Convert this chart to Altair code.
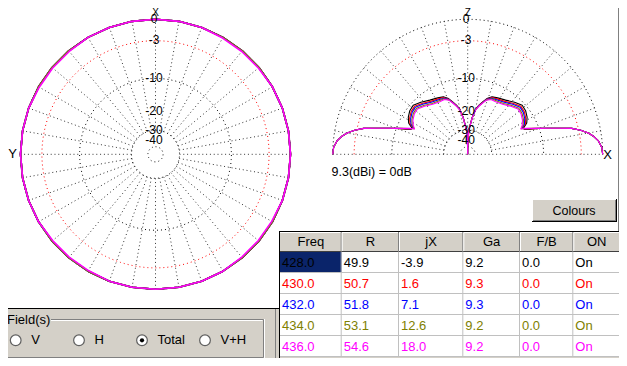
import math
import altair as alt
import pandas as pd

# ---------------- data ----------------
FREQS = ["428.0", "430.0", "432.0", "434.0", "436.0"]
R_VALUES = ["49.9", "50.7", "51.8", "53.1", "54.6"]
JX_VALUES = ["-3.9", "1.6", "7.1", "12.6", "18.0"]
GA_VALUES = ["9.2", "9.3", "9.3", "9.2", "9.2"]
FB_VALUES = ["0.0", "0.0", "0.0", "0.0", "0.0"]
ON_VALUES = ["On", "On", "On", "On", "On"]
HEADERS = ["Freq", "R", "jX", "Ga", "F/B", "ON"]
SERIES_COLORS = ["#000000", "#ff0000", "#0000ff", "#808000", "#ff00ff"]

# horizontal (azimuth) pattern, dB relative to 9.3 dBi, every 10 degrees
AZ_ANGLES = [0, 10, 20, 30, 40, 50, 60, 70, 80, 90, 100, 110, 120, 130, 140, 150, 160, 170, 180,
             190, 200, 210, 220, 230, 240, 250, 260, 270, 280, 290, 300, 310, 320, 330, 340, 350, 360]
AZ_DB_OTHERS = [0.0, 0.0, 0.0, 0.0, 0.0, 0.0, 0.0, 0.0, 0.0, 0.0, 0.0, 0.0, 0.0, 0.0, 0.0, 0.0, 0.0, 0.0, 0.0,
                0.0, 0.0, 0.0, 0.0, 0.0, 0.0, 0.0, 0.0, 0.0, 0.0, 0.0, 0.0, 0.0, 0.0, 0.0, 0.0, 0.0, 0.0]
AZ_DB_436 = [0.0, 0.0, 0.0, -0.1, -0.1, -0.1, 0.0, 0.0, 0.0, 0.0, 0.0, 0.0, -0.1, -0.1, -0.1, 0.0, 0.0, 0.0, 0.0,
             0.0, 0.0, -0.1, -0.1, -0.1, 0.0, 0.0, 0.0, 0.0, 0.0, 0.0, -0.1, -0.1, -0.1, 0.0, 0.0, 0.0, 0.0]

# vertical (elevation) pattern, elevation from horizon, symmetric about zenith
ELEV_ANGLES = [0, 3, 6, 8, 10, 12, 14, 16, 18, 20, 22, 24, 25.5, 28, 32, 37, 42, 48, 55, 62,
               67, 71, 74, 77, 80, 83, 85, 87.5, 89.5, 90]
EL_DB_428 = [0.0, -0.1, -0.5, -1.0, -1.7, -2.7, -4.0, -6.2, -8.2, -10.1, -12.2, -13.6, -13.5, -12.2, -11.4,
             -10.8, -10.6, -11.4, -12.4, -13.0, -13.4, -14.4, -15.8, -17.1, -18.7, -22.4, -26.1, -30.0, -50.0, -100.0]
EL_DB_430 = [0.0, -0.1, -0.5, -1.0, -1.7, -2.7, -4.0, -6.2, -8.2, -10.0, -11.8, -13.4, -13.9, -12.6, -11.8,
             -11.2, -11.0, -11.8, -12.8, -13.3, -13.6, -14.6, -15.9, -17.2, -18.8, -22.5, -26.2, -30.0, -50.0, -100.0]
EL_DB_432 = [0.0, -0.1, -0.5, -1.0, -1.7, -2.7, -4.0, -6.2, -8.2, -10.0, -11.7, -13.2, -14.1, -12.9, -12.1,
             -11.5, -11.3, -12.1, -13.1, -13.6, -13.8, -14.7, -16.0, -17.3, -18.9, -22.6, -26.3, -30.0, -50.0, -100.0]
EL_DB_434 = [0.0, -0.1, -0.5, -1.0, -1.7, -2.7, -4.0, -6.2, -8.2, -10.0, -11.6, -13.1, -14.3, -13.3, -12.5,
             -11.9, -11.7, -12.5, -13.5, -13.9, -14.0, -14.8, -16.1, -17.4, -19.0, -22.7, -26.4, -30.0, -50.0, -100.0]
EL_DB_436 = [0.0, -0.1, -0.5, -1.0, -1.7, -2.7, -4.0, -6.2, -8.2, -10.0, -11.6, -13.0, -14.4, -13.6, -12.8,
             -12.2, -12.0, -12.8, -13.8, -14.2, -14.2, -14.9, -16.2, -17.5, -19.1, -22.8, -26.5, -30.0, -50.0, -100.0]

GRID_DB = [0, -10, -30, -50]
REF_DB = -3
LABEL_DB = [0, -3, -10, -20, -30, -40]
LABEL_TEXT = ["0", "-3", "-10", "-20", "-30", "-40"]
GAIN_NOTE = "9.3(dBi) = 0dB"
FIELD_OPTIONS = ["V", "H", "Total", "V+H"]
SELECTED_FIELD = "Total"
BUTTON_TEXT = "Colours"
GROUP_TEXT = "Field(s)"

# ---------------- layout (page pixels) ----------------
PAGE_W, PAGE_H, MARGIN = 627, 366, 8
CHART_W, CHART_H = PAGE_W - 2 * MARGIN, PAGE_H - 2 * MARGIN
FONT = "Liberation Sans"
GREY = "#d4d0c8"
AZ_C = (155.5, 154.3)
EL_C = (467.7, 154.3)
RADIUS = 135.0
COL_EDGES = [280, 341.7, 399, 463.3, 520, 573.3, 620]
HEAD_TOP, HEAD_BOT = 232, 252
ROW_EDGES = [252, 273, 294, 315, 336, 357]
RADIO_X = [15.7, 79, 142, 205]
RADIO_Y = 340.3

XS = alt.Scale(domain=[MARGIN, MARGIN + CHART_W], range=[0, CHART_W], zero=False, nice=False)
YS = alt.Scale(domain=[MARGIN, MARGIN + CHART_H], range=[0, CHART_H], zero=False, nice=False)


def ex(f="x"):
    return alt.X(f"{f}:Q", scale=XS, axis=None)


def ey(f="y"):
    return alt.Y(f"{f}:Q", scale=YS, axis=None)


COLOR = alt.Color("freq:N", scale=alt.Scale(domain=FREQS, range=SERIES_COLORS), legend=None)


def gain_radius(db):
    return RADIUS * 10 ** (db / 40.0)


def az_xy(angle, db):
    r = gain_radius(db)
    t = math.radians(angle)
    return AZ_C[0] + r * math.sin(t), AZ_C[1] - r * math.cos(t)


def el_xy(angle, db):
    r = gain_radius(db)
    t = math.radians(angle)
    return EL_C[0] - r * math.cos(t), EL_C[1] - r * math.sin(t)


# ---------------- pattern traces ----------------
AZ_SERIES = [AZ_DB_OTHERS, AZ_DB_OTHERS, AZ_DB_OTHERS, AZ_DB_OTHERS, AZ_DB_436]
EL_SERIES = [EL_DB_428, EL_DB_430, EL_DB_432, EL_DB_434, EL_DB_436]
az_rows, el_rows = [], []
for k, f in enumerate(FREQS):
    for i, (a, d) in enumerate(zip(AZ_ANGLES, AZ_SERIES[k])):
        x, y = az_xy(a, d)
        az_rows.append({"freq": f, "key": f + "az", "i": i, "x": x, "y": y})
    full_a = ELEV_ANGLES + [180 - a for a in reversed(ELEV_ANGLES[:-1])]
    full_d = EL_SERIES[k] + list(reversed(EL_SERIES[k][:-1]))
    for i, (a, d) in enumerate(zip(full_a, full_d)):
        x, y = el_xy(a, d)
        el_rows.append({"freq": f, "key": f + "el", "i": i, "x": x, "y": y})
az_traces = alt.Chart(pd.DataFrame(az_rows)).mark_line(strokeWidth=1.6, strokeJoin="round").encode(
    x=ex(), y=ey(), color=COLOR, detail="key:N", order="i:Q")
el_traces = alt.Chart(pd.DataFrame(el_rows)).mark_line(strokeWidth=1.1, strokeJoin="round").encode(
    x=ex(), y=ey(), color=COLOR, detail="key:N", order="i:Q")

# ---------------- polar grid ----------------
def circle_rows(levels):
    rows = []
    for lv in levels:
        for i, a in enumerate(range(0, 361, 2)):
            x, y = az_xy(a, lv)
            rows.append({"key": f"az{lv}", "i": i, "x": x, "y": y})
        for i, a in enumerate(range(0, 181, 2)):
            x, y = el_xy(a, lv)
            rows.append({"key": f"el{lv}", "i": i, "x": x, "y": y})
    return pd.DataFrame(rows)


grid_circles = alt.Chart(circle_rows(GRID_DB)).mark_line(
    color="black", strokeWidth=1, strokeDash=[1, 3]).encode(x=ex(), y=ey(), detail="key:N", order="i:Q")
ref_circle = alt.Chart(circle_rows([REF_DB])).mark_line(
    color="red", strokeWidth=1, strokeDash=[1, 3]).encode(x=ex(), y=ey(), detail="key:N", order="i:Q")

spoke_rows = []
inner = GRID_DB[2]
for a in range(0, 360, 10):
    x1, y1 = az_xy(a, inner)
    x2, y2 = az_xy(a, 0)
    spoke_rows.append({"x": x1, "y": y1, "x2": x2, "y2": y2})
for a in range(10, 180, 10):
    x1, y1 = el_xy(a, inner)
    x2, y2 = el_xy(a, 0)
    spoke_rows.append({"x": x1, "y": y1, "x2": x2, "y2": y2})
bx1, by1 = el_xy(0, 0)
bx2, by2 = el_xy(180, 0)
spoke_rows.append({"x": bx1, "y": by1, "x2": bx2, "y2": by2})
spokes = alt.Chart(pd.DataFrame(spoke_rows)).mark_rule(
    color="black", strokeWidth=1, strokeDash=[1, 2.8], opacity=0.8).encode(
    x=ex(), y=ey(), x2="x2:Q", y2="y2:Q")

# ---------------- texts ----------------
text_rows = []
for lv, t in zip(LABEL_DB, LABEL_TEXT):
    x, y = az_xy(0, lv)
    text_rows.append({"t": t, "x": x - 1.5, "y": y - 0.5})
    x, y = el_xy(90, lv)
    text_rows.append({"t": t, "x": x - 1.5, "y": y - 0.5})
plot_text = alt.Chart(pd.DataFrame(text_rows)).mark_text(
    font=FONT, fontSize=12, baseline="middle", align="center", color="black").encode(
    x=ex(), y=ey(), text="t:N")
axis_rows = [
    {"t": "X", "x": AZ_C[0], "y": 12.5, "s": 10},
    {"t": "Z", "x": EL_C[0], "y": 12.5, "s": 10},
    {"t": "Y", "x": 12.5, "y": 153.5, "s": 13},
    {"t": "X", "x": 607.7, "y": 154.5, "s": 13},
]
axis_text = alt.Chart(pd.DataFrame(axis_rows)).mark_text(
    font=FONT, baseline="middle", align="center", color="black").encode(
    x=ex(), y=ey(), text="t:N", size=alt.Size("s:Q", scale=None, legend=None))
note = alt.Chart(pd.DataFrame([{"t": GAIN_NOTE, "x": 331.5, "y": 172.3}])).mark_text(
    font=FONT, fontSize=12.5, baseline="middle", align="left", color="black").encode(
    x=ex(), y=ey(), text="t:N")

# ---------------- window chrome ----------------
rects = pd.DataFrame([
    {"x": 0, "x2": 279, "y": 309, "y2": 366, "f": GREY},
    {"x": 279, "x2": 627, "y": 357, "y2": 366, "f": GREY},
    {"x": 621, "x2": 627, "y": 0, "y2": 366, "f": GREY},
    {"x": 280, "x2": 620, "y": HEAD_TOP, "y2": HEAD_BOT, "f": GREY},
    {"x": COL_EDGES[0], "x2": COL_EDGES[1], "y": ROW_EDGES[0], "y2": ROW_EDGES[1], "f": "#0a246a"},
    {"x": 532, "x2": 617, "y": 199, "y2": 222, "f": GREY},
])
rect_layer = alt.Chart(rects).mark_rect().encode(
    x=ex(), x2="x2:Q", y=ey(), y2="y2:Q", fill=alt.Fill("f:N", scale=None))

lines = [
    (0, 308.5, 279, 308.5, "black"),
    (279.5, 231, 279.5, 366, "black"),
    (279, 231.5, 621, 231.5, "black"),
    (618.5, 0, 618.5, 231, "#808080"),
    (620.5, 0, 620.5, 366, "black"),
    (280, 232.5, 620, 232.5, "white"),
    (280, 251.5, 620, 251.5, "#404040"),
    # group box (etched)
    (1.5, 319.5, 263.5, 319.5, "#808080"), (1.5, 319.5, 1.5, 357.5, "#808080"),
    (1.5, 357.5, 263.5, 357.5, "#808080"), (263.5, 319.5, 263.5, 357.5, "#808080"),
    (2.5, 320.5, 262.5, 320.5, "white"), (2.5, 320.5, 2.5, 356.5, "white"),
    (0, 358.5, 264.5, 358.5, "white"), (264.5, 319, 264.5, 358.5, "white"),
    (275.5, 309, 275.5, 366, "#808080"), (0, 363.5, 276, 363.5, "#808080"),
    # button
    (532, 199.5, 617, 199.5, "white"), (532.5, 199, 532.5, 222, "white"),
    (532, 221.5, 617, 221.5, "black"), (616.5, 199, 616.5, 222, "black"),
    (533, 220.5, 616, 220.5, "#808080"), (615.5, 200, 615.5, 221, "#808080"),
]
for e in COL_EDGES[1:-1]:
    lines.append((e - 0.5, HEAD_TOP, e - 0.5, HEAD_BOT, "#808080"))
    lines.append((e + 0.5, HEAD_TOP + 1, e + 0.5, HEAD_BOT - 1, "white"))
    lines.append((e - 0.5, ROW_EDGES[0], e - 0.5, ROW_EDGES[-1], "#c0c0c0"))
for r in ROW_EDGES[1:]:
    lines.append((280, r - 0.5, 620, r - 0.5, "#c0c0c0"))
ldf = pd.DataFrame(lines, columns=["x", "y", "x2", "y2", "s"])
line_layer = alt.Chart(ldf).mark_rule(strokeWidth=1).encode(
    x=ex(), y=ey(), x2="x2:Q", y2="y2:Q", stroke=alt.Stroke("s:N", scale=None))

label_bg = alt.Chart(pd.DataFrame([{"x": 5, "x2": 51, "y": 313, "y2": 327}])).mark_rect(color=GREY).encode(
    x=ex(), x2="x2:Q", y=ey(), y2="y2:Q")

# table text
cell_rows = []
for c, h in enumerate(HEADERS):
    cell_rows.append({"t": h, "x": (COL_EDGES[c] + COL_EDGES[c + 1]) / 2, "y": (HEAD_TOP + HEAD_BOT) / 2,
                      "freq": FREQS[0], "al": "center"})
cols = [FREQS, R_VALUES, JX_VALUES, GA_VALUES, FB_VALUES, ON_VALUES]
for r, f in enumerate(FREQS):
    for c, vals in enumerate(cols):
        cell_rows.append({"t": vals[r], "x": COL_EDGES[c] + 2, "y": (ROW_EDGES[r] + ROW_EDGES[r + 1]) / 2,
                          "freq": f, "al": "left"})
cdf = pd.DataFrame(cell_rows)
head_text = alt.Chart(cdf[cdf.al == "center"]).mark_text(
    font=FONT, fontSize=13, baseline="middle", align="center").encode(x=ex(), y=ey(), text="t:N", color=COLOR)
body_text = alt.Chart(cdf[cdf.al == "left"]).mark_text(
    font=FONT, fontSize=13, baseline="middle", align="left").encode(x=ex(), y=ey(), text="t:N", color=COLOR)

# radio group
radio_df = pd.DataFrame({"opt": FIELD_OPTIONS, "x": RADIO_X, "y": [RADIO_Y] * 4,
                         "lx": [v + 15.5 for v in RADIO_X]})
radio_circ = alt.Chart(radio_df).mark_point(shape="circle", filled=True, fill="white", stroke="#606060",
                                            strokeWidth=1.2, size=115, opacity=1).encode(x=ex(), y=ey())
radio_dot = alt.Chart(radio_df[radio_df.opt == SELECTED_FIELD]).mark_point(
    shape="circle", filled=True, fill="black", strokeWidth=0, size=18, opacity=1).encode(x=ex(), y=ey())
radio_text = alt.Chart(radio_df).mark_text(font=FONT, fontSize=13, baseline="middle", align="left",
                                           color="black").encode(x=ex("lx"), y=ey(), text="opt:N")
misc_text = alt.Chart(pd.DataFrame([
    {"t": GROUP_TEXT, "x": 7, "y": 320},
])).mark_text(font=FONT, fontSize=13, baseline="middle", align="left", color="black").encode(
    x=ex(), y=ey(), text="t:N")
button_text = alt.Chart(pd.DataFrame([{"t": BUTTON_TEXT, "x": 574, "y": 210.5}])).mark_text(
    font=FONT, fontSize=12.5, baseline="middle", align="center", color="black").encode(
    x=ex(), y=ey(), text="t:N")

chart = alt.layer(
    rect_layer, grid_circles, ref_circle, spokes, az_traces, el_traces, plot_text, axis_text, note,
    line_layer, label_bg, misc_text, head_text, body_text,
    radio_circ, radio_dot, radio_text, button_text,
).properties(
    width=CHART_W, height=CHART_H, padding=0,
    autosize=alt.AutoSizeParams(type="none"), background="white",
).configure_view(stroke=None)

chart.save("out.html", embed_options={"renderer": "svg", "actions": False})
